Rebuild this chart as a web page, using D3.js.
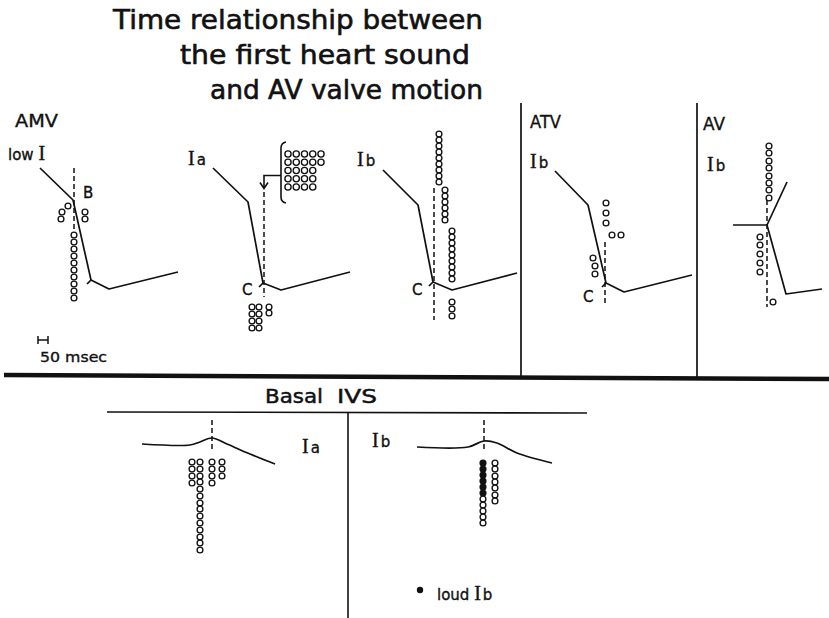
<!DOCTYPE html>
<html>
<head>
<meta charset="utf-8">
<script src="https://cdn.jsdelivr.net/npm/d3@7"></script>
<style>
  html, body { margin: 0; padding: 0; background: #fff; }
  svg { display: block; }
  text { font-family: "DejaVu Sans", "Liberation Sans", sans-serif; fill: #111; stroke: #111; stroke-width: 0.35px; }
  .roman { font-family: "Liberation Serif", "DejaVu Serif", serif; }
</style>
</head>
<body>
<svg width="829" height="618"></svg>
<script>
// time in msec relative to the valve event (dashed line), displacement in arbitrary units (+ = up)

// AMV, low I
var amvCurve = [[-170, 32], [-5, 0], [85, -80], [175, -89], [520, -72]];
var amvHook = [[85, -80], [65, -84]];
var amvDash = [32, -30];
var amvDots = [[-30, -6], [-60, -12], [-65, -19], [55, -12], [55, -19],
  [0, -35], [0, -42], [0, -49], [0, -56], [0, -63], [0, -70], [0, -77], [0, -84], [0, -91], [0, -98]];

// AMV, Ia
var iaCurve = [[-255, 115], [-80, 81], [-5, 0], [85, -7], [430, 11]];
var iaHook = [[-5, 0], [-25, -4]];
var iaDash = [91, -14];
var iaDots = [[-60, -24], [-60, -31], [-60, -38], [-60, -45],
  [-25, -24], [-25, -31], [-25, -38], [-25, -45], [25, -24], [25, -30]];
var iaEarlyRows = [5, 5, 4, 4, 4];   // cases before the valve event (bracket)

// AMV, Ib
var ibCurve = [[-255, 112], [-80, 77], [-5, 0], [90, -8], [415, 9]];
var ibHook = [[-5, 0], [-25, -4]];
var ibDash = [94, -38];
var ibDots = [[25, 148], [25, 142], [25, 136], [25, 130], [25, 124], [25, 118], [25, 112], [25, 106], [25, 100],
  [55, 92], [55, 86], [55, 80], [55, 74], [55, 68], [55, 62],
  [90, 51], [90, 45], [90, 39], [90, 33], [90, 27], [90, 21], [90, 15], [90, 9], [90, 3],
  [90, -20], [90, -27], [90, -34]];

// ATV, Ib
var atvCurve = [[-250, 112], [-85, 78], [5, 0], [95, -9], [435, 8]];
var atvHook = [[5, 0], [-15, -4]];
var atvDash = [41, -22];
var atvDots = [[5, 80], [5, 70], [5, 60], [35, 48], [80, 48], [-60, 25], [-50, 17], [-50, 9]];

// AV, Ib
var avCurve = [[-170, 0], [0, 0], [95, -69], [275, -64]];
var avCurve2 = [[0, 0], [100, 43]];
var avDash = [25, -82];
var avDots = [[10, 79], [10, 72], [10, 64], [10, 57], [10, 49], [10, 42], [10, 35], [10, 27],
  [-35, -12], [-35, -20], [-35, -29], [-35, -38], [-35, -47], [30, -77]];

// Basal IVS, Ia
var bIaCurve = [[-350, -4], [-110, -5], [-60, -2], [0, 2], [75, -4], [190, -14], [315, -24]];
var bIaDash = [20, -12];
var bIaDots = [[-100, -22], [-100, -29], [-100, -36], [-100, -43],
  [-60, -22], [-60, -29], [-60, -36], [-60, -42], [-60, -49], [-60, -56], [-60, -63], [-60, -69],
  [-60, -76], [-60, -83], [-60, -90], [-60, -97], [-60, -103], [-60, -110],
  [0, -22], [0, -29], [0, -36], [0, -43], [50, -22], [50, -29], [50, -36]];

// Basal IVS, Ib (third value 1 = loud Ib)
var bIbCurve = [[-335, -6], [-80, -6], [0, 0], [65, -2], [165, -12], [340, -22]];
var bIbDash = [21, -9];
var bIbDots = [[-5, -22, 1], [-5, -28, 1], [-5, -34, 1], [-5, -40, 1], [-5, -46, 1], [-5, -52, 1],
  [-5, -58], [-5, -64], [-5, -70], [-5, -76], [-5, -82],
  [55, -22], [55, -28], [55, -35], [55, -41], [55, -47], [55, -54], [55, -60]];

var titleLines = ["Time relationship between", "the first heart sound", "and AV valve motion"];

var PX_PER_MS = 0.2;
var svg = d3.select("svg");

var panels = [
  {x0: 74,  y0: 200, curves: [amvCurve], hook: amvHook, dash: amvDash, dots: amvDots},
  {x0: 264, y0: 283, curves: [iaCurve], hook: iaHook, dash: iaDash, dots: iaDots},
  {x0: 434, y0: 282, curves: [ibCurve], hook: ibHook, dash: ibDash, dots: ibDots},
  {x0: 605, y0: 283, curves: [atvCurve], hook: atvHook, dash: atvDash, dots: atvDots},
  {x0: 767, y0: 225, curves: [avCurve, avCurve2], dash: avDash, dots: avDots},
  {x0: 212, y0: 440, curves: [bIaCurve], dash: bIaDash, dots: bIaDots, smooth: true},
  {x0: 484, y0: 441, curves: [bIbCurve], dash: bIbDash, dots: bIbDots, smooth: true}
];

panels.forEach(drawPanel);

function drawPanel(p) {
  var xs = d3.scaleLinear().domain([0, 100]).range([p.x0, p.x0 + 100 * PX_PER_MS]);
  var ys = d3.scaleLinear().domain([0, 100]).range([p.y0, p.y0 - 100]);
  var g = svg.append("g");

  var line = d3.line().x(d => xs(d[0])).y(d => ys(d[1]));
  if (p.smooth) line.curve(d3.curveCatmullRom.alpha(0.5));

  g.append("line")
    .attr("x1", xs(0)).attr("x2", xs(0))
    .attr("y1", ys(p.dash[0])).attr("y2", ys(p.dash[1]))
    .attr("stroke", "#111").attr("stroke-width", 1.5)
    .attr("stroke-dasharray", "5,3");

  p.curves.forEach(function (c) {
    g.append("path").attr("d", line(c))
      .attr("fill", "none").attr("stroke", "#111").attr("stroke-width", 1.7)
      .attr("stroke-linejoin", "round");
  });
  if (p.hook) {
    g.append("path").attr("d", d3.line().x(d => xs(d[0])).y(d => ys(d[1]))(p.hook))
      .attr("fill", "none").attr("stroke", "#111").attr("stroke-width", 1.7);
  }

  g.selectAll("circle").data(p.dots).join("circle")
    .attr("cx", d => xs(d[0]))
    .attr("cy", d => ys(d[1]))
    .attr("r", 2.9)
    .attr("fill", d => d[2] ? "#111" : "#fff")
    .attr("stroke", "#111").attr("stroke-width", 1.35);
}

// early Ia cases, in the bracket
(function () {
  var cols = d3.scaleLinear().domain([0, 4]).range([288, 321]);
  var rows = d3.scaleLinear().domain([0, 4]).range([154, 187]);
  var cells = [];
  iaEarlyRows.forEach(function (n, r) { d3.range(n).forEach(function (c) { cells.push([c, r]); }); });
  var g = svg.append("g");
  g.selectAll("circle").data(cells).join("circle")
    .attr("cx", d => cols(d[0])).attr("cy", d => rows(d[1])).attr("r", 3.1)
    .attr("fill", "#fff").attr("stroke", "#111").attr("stroke-width", 1.35);

  var bx = cols(0) - 7, top = rows(0) - 12, bot = rows(4) + 16;
  g.append("path")
    .attr("d", "M" + (bx + 5) + "," + top + " Q" + bx + "," + (top + 1) + " " + bx + "," + (top + 6) +
      " L" + bx + "," + (bot - 6) + " Q" + bx + "," + (bot - 1) + " " + (bx + 5) + "," + bot)
    .attr("fill", "none").attr("stroke", "#111").attr("stroke-width", 1.6);

  var ax = 264, ay = rows(2) + 5;
  g.append("path").attr("d", "M" + bx + "," + ay + " H" + ax + " V" + (ay + 12))
    .attr("fill", "none").attr("stroke", "#111").attr("stroke-width", 1.6);
  g.append("path").attr("d", "M" + (ax - 4) + "," + (ay + 7) + " L" + ax + "," + (ay + 13) + " L" + (ax + 4) + "," + (ay + 7))
    .attr("fill", "none").attr("stroke", "#111").attr("stroke-width", 1.6);
})();

// frame lines
svg.append("line").attr("x1", 4).attr("y1", 375).attr("x2", 829).attr("y2", 379)
  .attr("stroke", "#111").attr("stroke-width", 4.5);
[521, 697].forEach(function (x) {
  svg.append("line").attr("x1", x).attr("x2", x).attr("y1", 103).attr("y2", 377)
    .attr("stroke", "#111").attr("stroke-width", 1.7);
});
svg.append("line").attr("x1", 107).attr("x2", 587).attr("y1", 412).attr("y2", 413)
  .attr("stroke", "#111").attr("stroke-width", 1.6);
svg.append("line").attr("x1", 348).attr("x2", 348).attr("y1", 412).attr("y2", 618)
  .attr("stroke", "#111").attr("stroke-width", 1.6);

// title
var titlePos = [[113, 29, 370], [180, 64, 290], [210, 99, 273]];
titleLines.forEach(function (t, i) {
  svg.append("text").attr("x", titlePos[i][0]).attr("y", titlePos[i][1])
    .attr("textLength", titlePos[i][2]).attr("lengthAdjust", "spacingAndGlyphs")
    .style("font-size", "26px").style("stroke-width", "0.6px").text(t);
});

// labels
function label(x, y, txt, size, len) {
  var t = svg.append("text").attr("x", x).attr("y", y).style("font-size", size + "px").text(txt);
  if (len) t.attr("textLength", len).attr("lengthAdjust", "spacingAndGlyphs");
  return t;
}
function romanLabel(x, y, pre, sub) {
  var t = svg.append("text").attr("x", x).attr("y", y).style("font-size", "15px");
  if (pre) t.append("tspan").text(pre);
  t.append("tspan").attr("class", "roman").style("font-size", "20px").text("I");
  t.append("tspan").attr("dx", 2).text(sub || "");
  return t;
}
label(15, 127, "AMV", 17, 43);
label(530, 128, "ATV", 17, 31);
label(703, 130, "AV", 17, 22);
romanLabel(8, 160, "low ", "");
romanLabel(188, 165, "", "a");
romanLabel(357, 166, "", "b");
romanLabel(530, 168, "", "b");
romanLabel(707, 171, "", "b");
label(83, 198, "B", 15);
label(242, 295, "C", 15);
label(412, 295, "C", 15);
label(583, 302, "C", 15);
romanLabel(302, 453, "", "a");
romanLabel(372, 447, "", "b");
label(265, 403, "Basal", 20, 58).style("stroke-width", "0.5px");
label(337, 403, "IVS", 20, 40).style("stroke-width", "0.5px");

// scale bar
var sb = d3.scaleLinear().domain([0, 50]).range([38, 48]);
var bar = svg.append("g").attr("stroke", "#111").attr("stroke-width", 1.5);
bar.append("line").attr("x1", sb(0)).attr("x2", sb(50)).attr("y1", 340).attr("y2", 340);
[0, 50].forEach(function (v) {
  bar.append("line").attr("x1", sb(v)).attr("x2", sb(v)).attr("y1", 336).attr("y2", 344);
});
label(40, 362, "50 msec", 14, 67);

// legend
svg.append("circle").attr("cx", 420).attr("cy", 590).attr("r", 3.2).attr("fill", "#111");
romanLabel(437, 600, "loud ", "b");
</script>
</body>
</html>
